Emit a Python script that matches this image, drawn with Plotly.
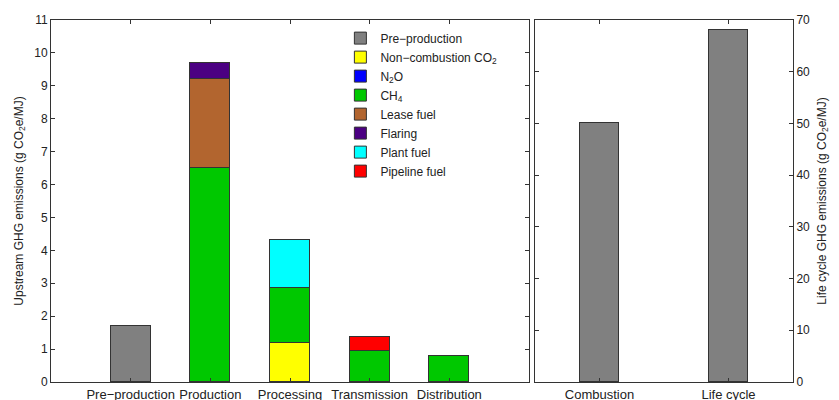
import plotly.graph_objects as go

# ---- data ----
stages = ["Pre−production", "Production", "Processing", "Transmission", "Distribution"]
pre_production = [1.7, None, None, None, None]
non_comb_co2 = [None, None, 1.2, None, None]
n2o = [None, None, None, None, None]
ch4 = [None, 6.5, 1.67, 0.95, 0.8]
lease_fuel = [None, 2.7, None, None, None]
flaring = [None, 0.5, None, None, None]
plant_fuel = [None, None, 1.45, None, None]
pipeline_fuel = [None, None, None, 0.42, None]

lc_categories = ["Combustion", "Life cycle"]
lc_values = [50, 68]

series = [
    ("Pre−production", pre_production, "#808080"),
    ("Non−combustion CO<sub>2</sub>", non_comb_co2, "#FFFF00"),
    ("N<sub>2</sub>O", n2o, "#0000FF"),
    ("CH<sub>4</sub>", ch4, "#00C800"),
    ("Lease fuel", lease_fuel, "#B2652F"),
    ("Flaring", flaring, "#4B0082"),
    ("Plant fuel", plant_fuel, "#00FFFF"),
    ("Pipeline fuel", pipeline_fuel, "#FF0000"),
]

FONT = "Liberation Sans, Arial, sans-serif"
EDGE = "#333333"
TXT = "#222222"

fig = go.Figure()
for name, vals, col in series:
    fig.add_trace(go.Bar(
        x=stages, y=vals, name=name, width=0.5,
        marker=dict(color=col, line=dict(color=EDGE, width=1)),
        xaxis="x", yaxis="y",
    ))

fig.add_trace(go.Bar(
    x=lc_categories, y=lc_values, width=0.3, showlegend=False,
    marker=dict(color="#808080", line=dict(color=EDGE, width=1)),
    xaxis="x2", yaxis="y2",
))

line_common = dict(
    showline=True, linecolor=EDGE, linewidth=1, mirror="ticks",
    ticks="inside", ticklen=4, tickcolor=EDGE, showgrid=False, zeroline=False,
)

# page body has an 8px default margin, so the figure is offset by 8px
fig.update_layout(
    width=831, height=392,
    margin=dict(l=43, r=46, t=12, b=18, autoexpand=False),
    paper_bgcolor="white", plot_bgcolor="white",
    barmode="stack", bargap=0,
    font=dict(family=FONT, size=12, color=TXT),
    xaxis=dict(domain=[0, 0.6442], range=[-1, 5], type="category",
               tickfont=dict(family=FONT, size=13, color=TXT), **line_common),
    yaxis=dict(range=[0, 11], dtick=1,
               tickfont=dict(family=FONT, size=12, color=TXT),
               title=dict(text="Upstream GHG emissions (g CO<sub>2</sub>e/MJ)",
                          font=dict(family=FONT, size=12, color=TXT), standoff=8),
               **line_common),
    xaxis2=dict(domain=[0.6523, 1], range=[-0.5, 1.5], type="category", anchor="y2",
                tickfont=dict(family=FONT, size=13, color=TXT), **line_common),
    yaxis2=dict(range=[0, 70], dtick=10, anchor="x2", side="right",
                tickfont=dict(family=FONT, size=12, color=TXT),
                title=dict(text="Life cycle GHG emissions (g CO<sub>2</sub>e/MJ)",
                           font=dict(family=FONT, size=12, color=TXT), standoff=8),
                **line_common),
    legend=dict(x=0.39, y=0.99, xanchor="left", yanchor="top",
                bgcolor="rgba(255,255,255,0)", borderwidth=0,
                font=dict(family=FONT, size=12, color=TXT),
                traceorder="normal", itemwidth=30),
)

fig.write_html("out.html")
